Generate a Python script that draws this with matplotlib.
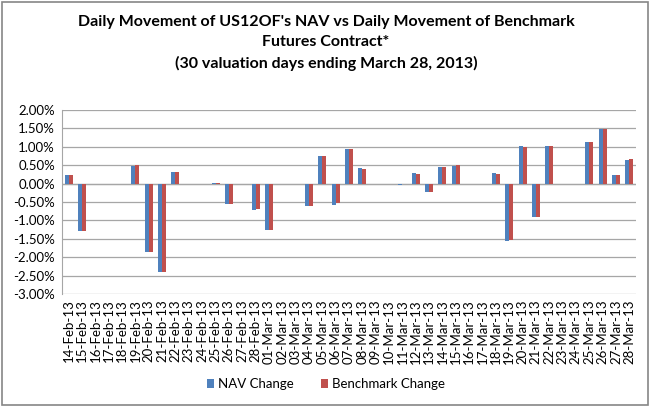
import matplotlib
matplotlib.use("Agg")
import matplotlib.pyplot as plt
import numpy as np
from matplotlib.ticker import FuncFormatter

plt.rcParams['font.family'] = ['Lato', 'DejaVu Sans']

# data (percent), one entry per calendar day
dates = ['14-Feb-13', '15-Feb-13', '16-Feb-13', '17-Feb-13', '18-Feb-13', '19-Feb-13',
         '20-Feb-13', '21-Feb-13', '22-Feb-13', '23-Feb-13', '24-Feb-13', '25-Feb-13',
         '26-Feb-13', '27-Feb-13', '28-Feb-13', '01-Mar-13', '02-Mar-13', '03-Mar-13',
         '04-Mar-13', '05-Mar-13', '06-Mar-13', '07-Mar-13', '08-Mar-13', '09-Mar-13',
         '10-Mar-13', '11-Mar-13', '12-Mar-13', '13-Mar-13', '14-Mar-13', '15-Mar-13',
         '16-Mar-13', '17-Mar-13', '18-Mar-13', '19-Mar-13', '20-Mar-13', '21-Mar-13',
         '22-Mar-13', '23-Mar-13', '24-Mar-13', '25-Mar-13', '26-Mar-13', '27-Mar-13',
         '28-Mar-13']
nav_change = [0.24, -1.29, 0, 0, 0, 0.47,
              -1.85, -2.39, 0.31, 0, 0, 0.02,
              -0.56, -0.02, -0.71, -1.27, 0, 0,
              -0.61, 0.75, -0.57, 0.95, 0.42, 0,
              0, -0.03, 0.28, -0.22, 0.46, 0.48,
              0, 0, 0.28, -1.57, 1.02, -0.91,
              1.02, 0, 0, 1.12, 1.48, 0.24,
              0.64]
bench_change = [0.24, -1.29, 0, 0, 0, 0.50,
                -1.85, -2.39, 0.31, 0, 0, 0.02,
                -0.56, -0.02, -0.69, -1.27, 0, 0,
                -0.62, 0.75, -0.54, 0.95, 0.40, 0,
                0, -0.02, 0.26, -0.22, 0.46, 0.51,
                0, 0, 0.26, -1.54, 1.00, -0.91,
                1.02, 0, 0, 1.12, 1.48, 0.24,
                0.66]

fig = plt.figure(figsize=(6.52, 4.07), dpi=100)
ax = fig.add_axes([62 / 652, 1 - 294 / 407, (636 - 62) / 652, (294 - 110) / 407])

x = np.arange(len(dates))
w = 0.3
ax.bar(x - w / 2, nav_change, w, color='#4F81BD', label='NAV Change', zorder=3)
ax.bar(x + w / 2, bench_change, w, color='#C0504D', label='Benchmark Change', zorder=3)

ax.set_xlim(-0.5, len(dates) - 0.5)
ax.set_ylim(-3.0, 2.0)
ax.set_yticks(np.arange(-3.0, 2.01, 0.5))
ax.yaxis.set_major_formatter(FuncFormatter(lambda v, p: f'{v:.2f}%'))
ax.set_xticks(x)
ax.set_xticklabels(dates, rotation=90, fontsize=9.5)
ax.tick_params(axis='y', labelsize=9.5, length=0, pad=5)
ax.tick_params(axis='x', length=0, pad=4)
ax.grid(axis='y', color='#A6A6A6', linewidth=0.9, zorder=0)
ax.axhline(0, color='#A6A6A6', linewidth=0.9, zorder=1)
for s in ['top', 'right', 'bottom']:
    ax.spines[s].set_visible(False)
ax.spines['left'].set_color('#A6A6A6')

fig.text(0.5, 1 - 15 / 407,
         "Daily Movement of US12OF's NAV vs Daily Movement of Benchmark\nFutures Contract*\n(30 valuation days ending March 28, 2013)",
         ha='center', va='top', fontsize=11.5, fontweight='bold', linespacing=1.55)

fig.legend(loc='center', bbox_to_anchor=(0.5, 1 - 384 / 407), ncol=2, frameon=False,
           fontsize=9.5, handlelength=0.6, handleheight=0.6, columnspacing=2.0, handletextpad=0.3)

# outer frame
fig.patches.append(plt.Rectangle((0.003, 0.005), 0.991, 0.99, transform=fig.transFigure,
                                 fill=False, edgecolor='#868686', linewidth=1.2))

fig.savefig('out.png', dpi=100)
